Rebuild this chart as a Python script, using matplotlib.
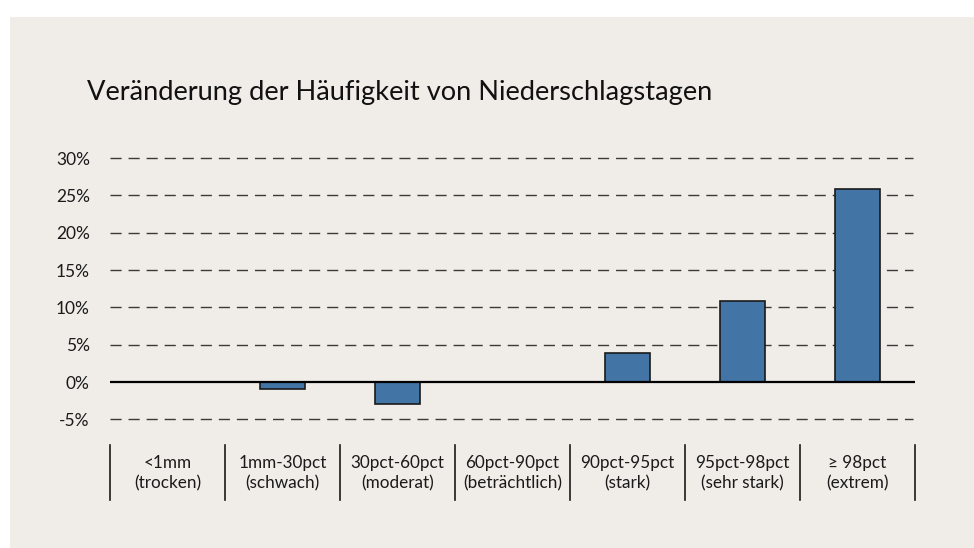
import matplotlib.pyplot as plt
from matplotlib.patches import Rectangle

categories = ["<1mm\n(trocken)", "1mm-30pct\n(schwach)", "30pct-60pct\n(moderat)",
              "60pct-90pct\n(beträchtlich)", "90pct-95pct\n(stark)",
              "95pct-98pct\n(sehr stark)", "≥ 98pct\n(extrem)"]
values = [0, -0.9, -2.9, 0, 3.9, 10.9, 25.9]
yticks = [-5, 0, 5, 10, 15, 20, 25, 30]
ytick_labels = ["-5%", "0%", "5%", "10%", "15%", "20%", "25%", "30%"]
title = "Veränderung der Häufigkeit von Niederschlagstagen"

bg = "#f0ede8"
bar_color = "#4274a5"

plt.rcParams['font.family'] = ['Lato', 'DejaVu Sans']

W, H = 974, 548
fig = plt.figure(figsize=(W / 100, H / 100), dpi=100)
fig.patch.set_facecolor("white")
fig.patches.append(Rectangle((10 / W, 0), 1 - 10 / W, 1 - 17 / H,
                             transform=fig.transFigure, facecolor=bg,
                             edgecolor="none", zorder=-10))

ax_bottom, ax_top = 430, 150
ax = fig.add_axes([110 / W, 1 - ax_bottom / H, 805 / W, (ax_bottom - ax_top) / H])
ax.set_facecolor("none")

ppu = 37.35 / 5
ax.set_ylim(-5 - (ax_bottom - 419.5) / ppu, 30 + (158 - ax_top) / ppu)
ax.set_xlim(-0.5, len(categories) - 0.5)

# grid lines (dashed), zero line solid
for t in yticks:
    if t == 0:
        continue
    ax.plot([-0.5, 6.48], [t, t], color="#3a3a3a", lw=1.0,
            dashes=(8, 5), zorder=1, solid_capstyle="butt")

ax.bar(range(len(categories)), values, width=0.39, color=bar_color,
       edgecolor="#1a1a1a", linewidth=1.2, zorder=3)
ax.axhline(0, color="black", lw=1.6, zorder=4)

for s in ax.spines.values():
    s.set_visible(False)

ax.set_yticks(yticks)
ax.set_yticklabels(ytick_labels, fontsize=12.5, color="#1a1a1a")
ax.tick_params(axis="y", length=0, pad=14.5)
ax.set_xticks([])

# category separators and labels below the axes
trans = ax.get_xaxis_transform()
h = ax_bottom - ax_top
y0 = (ax_bottom - 445) / h
y1 = (ax_bottom - 500) / h
for i in range(len(categories) + 1):
    ax.plot([i - 0.5, i - 0.5], [y0, y1], color="#1a1a1a", lw=1.2,
            transform=trans, clip_on=False)
for i, lab in enumerate(categories):
    ax.text(i, (ax_bottom - 473) / h, lab, transform=trans, ha="center",
            va="center", fontsize=12.3, color="#1a1a1a", linespacing=1.3)

fig.text(87 / W, 1 - 100 / H, title, fontsize=19.6, color="#111111",
         va="baseline", ha="left")

fig.savefig("out.png", dpi=100, facecolor=fig.get_facecolor())
